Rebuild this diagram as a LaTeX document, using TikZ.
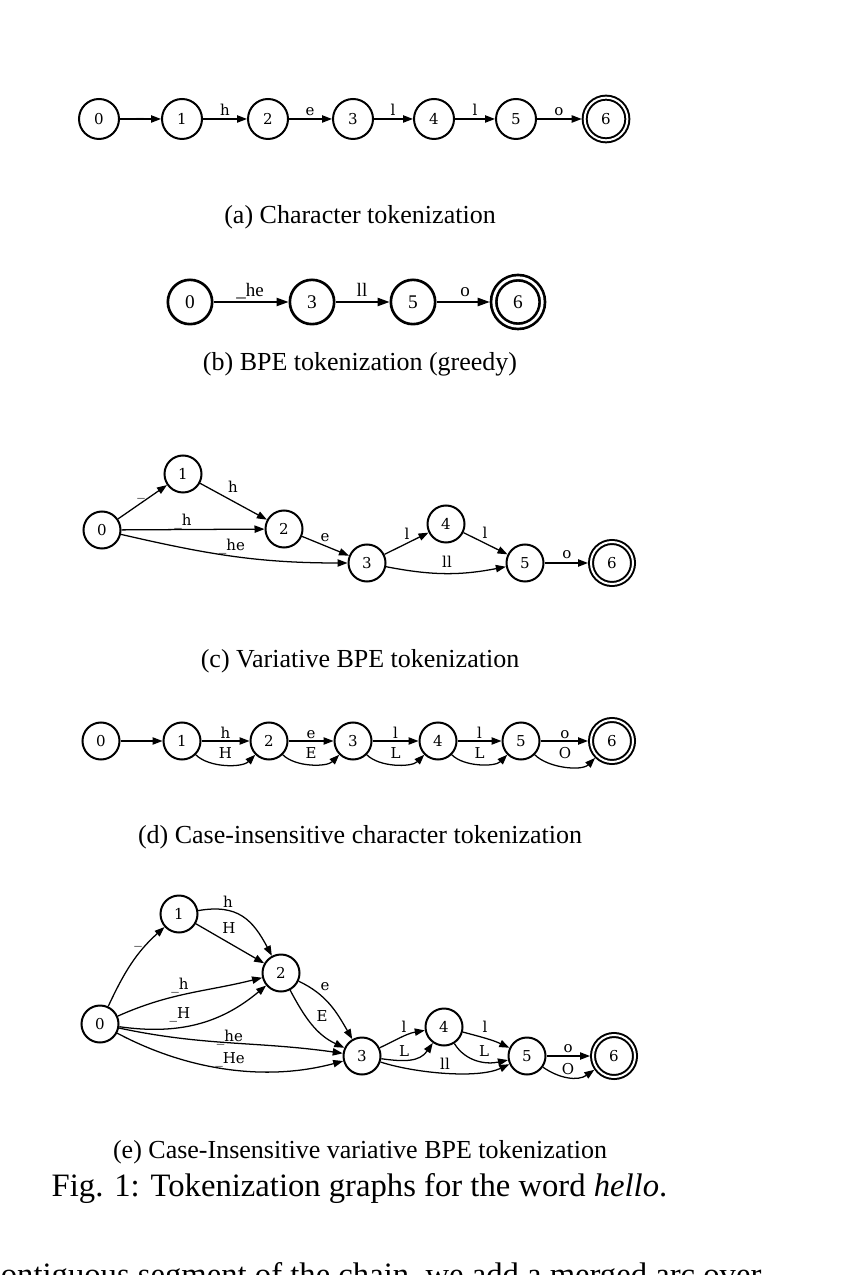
\documentclass[tikz,border=0pt]{standalone}
\usepackage{fontspec}
\setmainfont{Liberation Serif}
\newfontfamily\gvserif{DejaVu Serif}
\usepackage{tikz}
\usetikzlibrary{arrows.meta}

\tikzset{
	st/.style={circle, draw, line width=0.6pt, minimum size=11.1pt, inner sep=0pt,
		font=\gvserif\fontsize{4.5}{5}\selectfont},
	acc/.style={st, double, double distance=0.6pt, minimum size=12.6pt, outer sep=0.9pt},
	bst/.style={circle, draw, line width=0.8pt, minimum size=13.3pt, inner sep=0pt,
		font=\fontsize{5.8}{6}\selectfont},
	bacc/.style={bst, double, double distance=0.8pt, minimum size=14.6pt, outer sep=1.2pt},
	tr/.style={-{Triangle[length=3pt,width=2.2pt]}, line width=0.38pt},
	btr/.style={-{Triangle[length=3.6pt,width=2.5pt]}, line width=0.45pt},
	lb/.style={anchor=base, inner sep=0pt, font=\gvserif\fontsize{4.5}{5}\selectfont},
	blb/.style={anchor=base, inner sep=0pt, font=\fontsize{5.7}{6}\selectfont},
	subcap/.style={anchor=base, inner sep=0pt, font=\fontsize{7.8}{9.4}\selectfont},
	bigcap/.style={anchor=base, inner sep=0pt, font=\fontsize{9.8}{12}\selectfont}
}

\begin{document}
\begin{tikzpicture}[x=0.3pt,y=0.3pt]
\path[use as bounding box, clip] (0,0) rectangle (848,-1275);

% (a)
\node[st, minimum size=12pt] (a0) at (99,-119) {0};
\node[st, minimum size=12pt] (a1) at (182,-119) {1};
\node[st, minimum size=12pt] (a2) at (268,-119) {2};
\node[st, minimum size=12pt] (a3) at (353,-119) {3};
\node[st, minimum size=12pt] (a4) at (434,-119) {4};
\node[st, minimum size=12pt] (a5) at (516,-119) {5};
\node[acc, minimum size=12.8pt] (a6) at (606,-119) {6};

\draw[tr] (a0) -- (a1);
\draw[tr] (a1) -- (a2);
\draw[tr] (a2) -- (a3);
\draw[tr] (a3) -- (a4);
\draw[tr] (a4) -- (a5);
\draw[tr] (a5) -- (a6);

\node[lb] (la01) at (140,-116) {\_};
\node[lb] (la12) at (225,-116) {h};
\node[lb] (la23) at (310,-116) {e};
\node[lb] (la34) at (393,-116) {l};
\node[lb] (la45) at (475,-116) {l};
\node[lb] (la56) at (559,-116) {o};

\node[subcap] (capa) at (360,-224) {(a) Character tokenization};

% (b)
\node[bst] (b0) at (190,-302) {0};
\node[bst] (b3) at (312,-302) {3};
\node[bst] (b5) at (413,-302) {5};
\node[bacc] (b6) at (518,-302) {6};

\draw[btr] (b0) -- (b3);
\draw[btr] (b3) -- (b5);
\draw[btr] (b5) -- (b6);

\node[blb] (lb03) at (250,-297) {\_he};
\node[blb] (lb35) at (362,-297) {ll};
\node[blb] (lb56) at (465,-297) {o};

\node[subcap] (capb) at (360,-371) {(b) BPE tokenization (greedy)};

% (c)
\node[st] (c0) at (102,-530) {0};
\node[st] (c1) at (183,-474) {1};
\node[st] (c2) at (284,-529) {2};
\node[st] (c3) at (367,-563) {3};
\node[st] (c4) at (446,-524) {4};
\node[st] (c5) at (525,-563) {5};
\node[acc] (c6) at (612,-563) {6};

\draw[tr] (c0) -- (c1);
\draw[tr] (c1) -- (c2);
\draw[tr] (c0) -- (c2);
\draw[tr] (c0) to[out=-13,in=180] (c3);
\draw[tr] (c2) -- (c3);
\draw[tr] (c3) -- (c4);
\draw[tr] (c4) -- (c5);
\draw[tr] (c3) to[out=-11,in=191] (c5);
\draw[tr] (c5) -- (c6);

\node[lb] (lc01) at (141,-496) {\_};
\node[lb] (lc12) at (233,-493) {h};
\node[lb] (lc02) at (183,-526) {\_h};
\node[lb] (lc03) at (232,-551) {\_he};
\node[lb] (lc23) at (325,-542) {e};
\node[lb] (lc34) at (407,-540) {l};
\node[lb] (lc45) at (485,-539) {l};
\node[lb] (lc35) at (447,-568) {ll};
\node[lb] (lc56) at (567,-559) {o};

\node[subcap] (capc) at (360,-667) {(c) Variative BPE tokenization};

% (d)
\node[st] (d0) at (101,-741) {0};
\node[st] (d1) at (182,-741) {1};
\node[st] (d2) at (269,-741) {2};
\node[st] (d3) at (353,-741) {3};
\node[st] (d4) at (438,-741) {4};
\node[st] (d5) at (521,-741) {5};
\node[acc] (d6) at (612,-741) {6};

\draw[tr] (d0) -- (d1);
\draw[tr] (d1) -- (d2);
\draw[tr] (d2) -- (d3);
\draw[tr] (d3) -- (d4);
\draw[tr] (d4) -- (d5);
\draw[tr] (d5) -- (d6);
\draw[tr] (d1) to[out=-45,in=-135,looseness=0.8] (d2);
\draw[tr] (d2) to[out=-45,in=-135,looseness=0.8] (d3);
\draw[tr] (d3) to[out=-45,in=-135,looseness=0.8] (d4);
\draw[tr] (d4) to[out=-45,in=-135,looseness=0.8] (d5);
\draw[tr] (d5) to[out=-45,in=-135,looseness=0.8] (d6);

\node[lb] (ld01) at (142,-738) {\_};
\node[lb] (ld12) at (225.5,-738) {h};
\node[lb] (ld23) at (311,-738) {e};
\node[lb] (ld34) at (395.5,-738) {l};
\node[lb] (ld45) at (479.5,-738) {l};
\node[lb] (ld56) at (565,-738) {o};
\node[lb] (ld12u) at (225.5,-758) {H};
\node[lb] (ld23u) at (311,-758) {E};
\node[lb] (ld34u) at (395.5,-758) {L};
\node[lb] (ld45u) at (479.5,-758) {L};
\node[lb] (ld56u) at (565,-758) {O};

\node[subcap] (capd) at (360,-843) {(d) Case-insensitive character tokenization};

% (e)
\node[st] (e0) at (100,-1024) {0};
\node[st] (e1) at (179,-914) {1};
\node[st] (e2) at (281,-973) {2};
\node[st] (e3) at (362,-1056) {3};
\node[st] (e4) at (444,-1027) {4};
\node[st] (e5) at (527,-1056) {5};
\node[acc] (e6) at (614,-1056) {6};

\draw[tr] (e0) to[out=65,in=-138] (e1);
\draw[tr] (e1) to[out=10,in=118,looseness=1.2] (e2);
\draw[tr] (e1) -- (e2);
\draw[tr] (e0) to[out=24,in=194] (e2);
\draw[tr] (e0) to[out=-8,in=-140] (e2);
\draw[tr] (e0) to[out=-12,in=172] (e3);
\draw[tr] (e0) to[out=-28,in=-165,looseness=0.9] (e3);
\draw[tr] (e2) to[out=-25,in=120] (e3);
\draw[tr] (e2) to[out=-62,in=155] (e3);
\draw[tr] (e3) to[out=25,in=190] (e4);
\draw[tr] (e3) to[out=-8,in=-125,looseness=1.1] (e4);
\draw[tr] (e3) to[out=-18,in=-155,looseness=0.7] (e5);
\draw[tr] (e4) to[out=-15,in=155] (e5);
\draw[tr] (e4) to[out=-58,in=192] (e5);
\draw[tr] (e5) -- (e6);
\draw[tr] (e5) to[out=-35,in=-145] (e6);

\node[lb] (le01) at (138,-943) {\_};
\node[lb] (le12) at (228,-907) {h};
\node[lb] (le12u) at (229,-933) {H};
\node[lb] (le02) at (180,-989) {\_h};
\node[lb] (le02u) at (180,-1018) {\_H};
\node[lb] (le03) at (230,-1041) {\_he};
\node[lb] (le03u) at (230,-1063) {\_He};
\node[lb] (le23) at (325,-990) {e};
\node[lb] (le23u) at (322,-1021) {E};
\node[lb] (le34) at (404,-1032) {l};
\node[lb] (le34u) at (404,-1056) {L};
\node[lb] (le35) at (445,-1069) {ll};
\node[lb] (le45) at (485,-1032) {l};
\node[lb] (le45u) at (484,-1056) {L};
\node[lb] (le56) at (568,-1052) {o};
\node[lb] (le56u) at (568,-1074) {O};

\node[subcap] (cape) at (360,-1158) {(e) Case-Insensitive variative BPE tokenization};

\node[bigcap] (fig) at (359.5,-1196) {Fig. 1: Tokenization graphs for the word \textit{hello}.};
\node[bigcap, anchor=base east] (body) at (762,-1285) {contiguous segment of the chain, we add a merged arc over};

\end{tikzpicture}
\end{document}
